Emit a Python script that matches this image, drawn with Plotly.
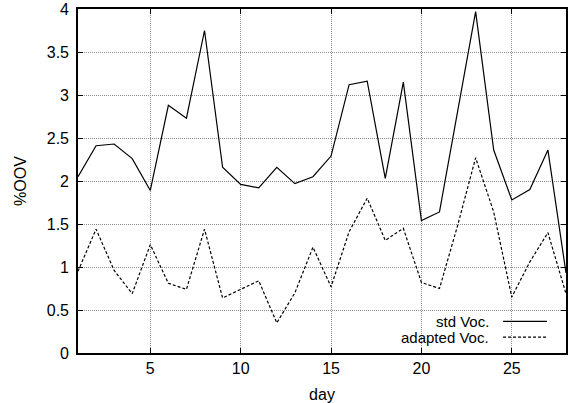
import plotly.graph_objects as go

days = list(range(1, 29))
std_voc = [2.05, 2.41, 2.43, 2.26, 1.89, 2.88, 2.73, 3.75, 2.16, 1.96, 1.92, 2.16, 1.97, 2.05,
           2.29, 3.12, 3.16, 2.03, 3.15, 1.54, 1.64, 2.80, 3.97, 2.36, 1.78, 1.90, 2.36, 0.93]
adapted_voc = [0.95, 1.44, 0.96, 0.69, 1.26, 0.81, 0.74, 1.44, 0.64, 0.74, 0.84, 0.35, 0.70, 1.23,
               0.77, 1.41, 1.80, 1.31, 1.45, 0.82, 0.75, 1.48, 2.27, 1.64, 0.65, 1.06, 1.40, 0.69]
x_ticks = [5, 10, 15, 20, 25]
y_ticks = [0, 0.5, 1, 1.5, 2, 2.5, 3, 3.5, 4]
y_tick_labels = ["0", "0.5", "1", "1.5", "2", "2.5", "3", "3.5", "4"]
series_names = ["std Voc.", "adapted Voc."]

FONT = "Liberation Sans, Arial, Helvetica, sans-serif"
FS = 16

fig = go.Figure()
fig.add_trace(go.Scatter(x=days, y=std_voc, mode="lines", name=series_names[0],
                         line=dict(color="black", width=1.2), showlegend=False))
fig.add_trace(go.Scatter(x=days, y=adapted_voc, mode="lines", name=series_names[1],
                         line=dict(color="black", width=1.2, dash="3px,2px"), showlegend=False))

axis_common = dict(
    showgrid=True, gridcolor="#8c8c8c", gridwidth=1, griddash="1px,1px",
    showline=True, linecolor="black", linewidth=1.6, mirror="ticks",
    ticks="inside", ticklen=5, tickcolor="black", tickwidth=1,
    zeroline=False, automargin=False,
    tickfont=dict(family=FONT, size=FS, color="black"),
)
fig.update_xaxes(range=[1, 28], tickvals=x_ticks,
                 title=dict(text="day", font=dict(family=FONT, size=FS, color="black"), standoff=13),
                 **axis_common)
fig.update_yaxes(range=[0, 4], tickvals=y_ticks, ticktext=y_tick_labels,
                 ticklabelstandoff=4,
                 title=dict(text="%OOV", font=dict(family=FONT, size=FS, color="black"), standoff=16),
                 **axis_common)

# legend drawn gnuplot-style: text right-aligned, line sample to its right
leg_y = [0.092, 0.046]
dashes = ["solid", "3px,2px"]
for name, yy, d in zip(series_names, leg_y, dashes):
    fig.add_annotation(x=0.844, y=yy, xref="paper", yref="paper", text=name, showarrow=False,
                       xanchor="right", yanchor="middle", borderpad=0,
                       font=dict(family=FONT, size=FS - 1, color="black"))
    fig.add_shape(type="line", xref="paper", yref="paper", x0=0.871, x1=0.961, y0=yy, y1=yy,
                  line=dict(color="black", width=1.2, dash=d))

fig.update_layout(
    width=573, height=403,
    margin=dict(l=78, r=7, t=9, b=50, autoexpand=False),
    paper_bgcolor="white", plot_bgcolor="white",
    font=dict(family=FONT, size=FS, color="black"),
    showlegend=False,
)
fig.write_html("out.html", config={"displayModeBar": False},
               post_script="document.body.style.margin='0';")
